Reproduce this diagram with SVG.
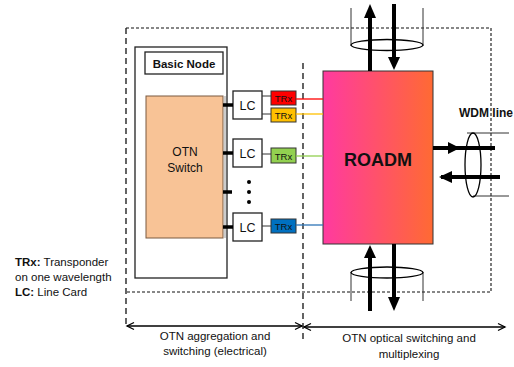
<svg xmlns="http://www.w3.org/2000/svg" width="514" height="367" viewBox="0 0 514 367">
<style>
text{font-family:"Liberation Sans",Arial,sans-serif;fill:#111}
.b{font-weight:bold}
.box{fill:#fff;stroke:#222;stroke-width:1.3}
.trx{stroke:#333;stroke-width:1}
.trxt{font-size:9.5px;text-anchor:middle}
.lct{font-size:12.5px;text-anchor:middle}
.dash{fill:none;stroke:#111;stroke-width:1.1;stroke-dasharray:3,2}
.vdash{fill:none;stroke:#111;stroke-width:1.3;stroke-dasharray:6,4}
.thick{stroke:#000;stroke-width:4;fill:none}
.conn{stroke:#000;stroke-width:3.5}
.thin{stroke:#333;stroke-width:1;fill:none}
.lab{font-size:11.5px;text-anchor:middle}
</style>
<defs>
<linearGradient id="rg" x1="0" y1="0" x2="1" y2="0">
<stop offset="0" stop-color="#FF3AA0"/>
<stop offset="1" stop-color="#FF6A33"/>
</linearGradient>
<marker id="chev" markerWidth="10" markerHeight="10" refX="8" refY="5" orient="auto-start-reverse" markerUnits="userSpaceOnUse">
<path d="M1,1.5 L8,5 L1,8.5" fill="none" stroke="#000" stroke-width="1.3"/>
</marker>
</defs>

<!-- frame -->
<g id="frame">
<path class="dash" d="M126,28 H491 V292 H126"/>
<line class="vdash" x1="126" y1="28" x2="126" y2="326"/>
<line class="vdash" x1="303" y1="63" x2="303" y2="342"/>
</g>

<!-- basic node -->
<g id="basic-node">
<rect class="box" x="135" y="47" width="92" height="231"/>
<rect class="box" x="145" y="52" width="78" height="22"/>
<text class="b" x="184" y="68" font-size="11.5" text-anchor="middle">Basic Node</text>
</g>

<g id="otn-switch">
<line x1="225" y1="96" x2="225" y2="238" stroke="#999" stroke-width="1"/>
<rect x="146" y="96" width="77" height="142" fill="#F8C396" stroke="#7a5a40" stroke-width="1"/>
<text x="185" y="156" font-size="12" text-anchor="middle">OTN</text>
<text x="185" y="172" font-size="12" text-anchor="middle">Switch</text>
</g>

<g id="lc1">
<rect class="box" x="233" y="91" width="29" height="28"/>
<text class="lct" x="247.5" y="110">LC</text>
</g>
<g id="lc2">
<rect class="box" x="233" y="139" width="29" height="28"/>
<text class="lct" x="247.5" y="158">LC</text>
</g>
<g id="lc3">
<rect class="box" x="233" y="213" width="29" height="28"/>
<text class="lct" x="247.5" y="232">LC</text>
</g>

<g id="dots">
<circle cx="249" cy="182" r="2" fill="#000"/>
<circle cx="249" cy="192" r="2" fill="#000"/>
<circle cx="249" cy="202" r="2" fill="#000"/>
</g>

<g id="trx1">
<rect class="trx" x="271" y="91" width="25" height="14" fill="#FF0000"/>
<text class="trxt" x="283.5" y="102">TRx</text>
</g>
<g id="trx2">
<rect class="trx" x="271" y="108" width="25" height="14" fill="#FFC000"/>
<text class="trxt" x="283.5" y="119">TRx</text>
</g>
<g id="trx3">
<rect class="trx" x="271" y="148" width="25" height="15" fill="#92D050"/>
<text class="trxt" x="283.5" y="159.5">TRx</text>
</g>
<g id="trx4">
<rect class="trx" x="271" y="219" width="25" height="14" fill="#0070C0"/>
<text class="trxt" x="283.5" y="230">TRx</text>
</g>

<g id="roadm">
<rect x="323" y="71" width="110" height="173" fill="url(#rg)" stroke="#333" stroke-width="1"/>
<text class="b" x="378" y="166" font-size="18" text-anchor="middle">ROADM</text>
</g>

<g id="connectors">
<!-- switch to LC -->
<line class="conn" x1="223" y1="105" x2="233" y2="105"/>
<line class="conn" x1="223" y1="153" x2="233" y2="153"/>
<line class="conn" x1="223" y1="192" x2="232" y2="192"/>
<line class="conn" x1="223" y1="227" x2="233" y2="227"/>
<!-- LC to TRx -->
<line x1="262" y1="96" x2="271" y2="96" stroke="#333" stroke-width="1"/>
<line x1="262" y1="114" x2="271" y2="114" stroke="#333" stroke-width="1"/>
<line x1="262" y1="154" x2="271" y2="154" stroke="#333" stroke-width="1"/>
<line x1="262" y1="226" x2="271" y2="226" stroke="#333" stroke-width="1"/>
<!-- TRx to ROADM -->
<line x1="296" y1="99" x2="323" y2="99" stroke="#FF0000" stroke-width="1.3"/>
<line x1="296" y1="114" x2="323" y2="114" stroke="#FFC000" stroke-width="1.3"/>
<line x1="296" y1="156" x2="323" y2="156" stroke="#92D050" stroke-width="1.3"/>
<line x1="296" y1="225" x2="323" y2="225" stroke="#2E75B6" stroke-width="1.3"/>

<!-- top fibers -->
<line class="thin" x1="351" y1="8" x2="351" y2="46"/>
<line class="thin" x1="423" y1="8" x2="423" y2="46"/>
<line class="thick" x1="370" y1="71" x2="370" y2="16"/>
<polygon points="370,4 364,18 376,18" fill="#000"/>
<line class="thick" x1="394" y1="4" x2="394" y2="59"/>
<polygon points="394,70 388,57 400,57" fill="#000"/>
<ellipse cx="387" cy="45" rx="36" ry="5.5" fill="none" stroke="#000" stroke-width="1.3"/>

<!-- bottom fibers -->
<line class="thin" x1="351" y1="272" x2="351" y2="301"/>
<line class="thin" x1="423" y1="272" x2="423" y2="301"/>
<line class="thick" x1="370" y1="256" x2="370" y2="311"/>
<polygon points="370,245 364,258 376,258" fill="#000"/>
<line class="thick" x1="394" y1="244" x2="394" y2="299"/>
<polygon points="394,311 388,297 400,297" fill="#000"/>
<ellipse cx="387" cy="272.5" rx="36" ry="5.5" fill="none" stroke="#000" stroke-width="1.3"/>

<!-- WDM line -->
<line class="thin" x1="467" y1="133" x2="509" y2="133"/>
<line class="thin" x1="473" y1="196" x2="509" y2="196"/>
<line class="thick" x1="433" y1="148" x2="495" y2="148"/>
<polygon points="460,148 448,142 448,154" fill="#000"/>
<line class="thick" x1="441" y1="177" x2="500" y2="177"/>
<polygon points="439,177 452,171 452,183" fill="#000"/>
<ellipse cx="473" cy="165" rx="8" ry="32" fill="none" stroke="#000" stroke-width="1.3"/>

<!-- extent arrows -->
<line x1="127" y1="326" x2="302" y2="326" stroke="#000" stroke-width="1.6" marker-start="url(#chev)" marker-end="url(#chev)"/>
<line x1="304" y1="327" x2="505" y2="327" stroke="#000" stroke-width="1.6" marker-start="url(#chev)" marker-end="url(#chev)"/>
</g>

<g id="labels">
<text class="b" x="459" y="117" font-size="12">WDM line</text>
<text class="lab" x="215" y="340">OTN aggregation and</text>
<text class="lab" x="215" y="355">switching (electrical)</text>
<text class="lab" x="409" y="342">OTN optical switching and</text>
<text class="lab" x="409" y="358">multiplexing</text>
</g>

<g id="legend" font-size="11.5">
<text x="15" y="266"><tspan class="b">TRx:</tspan> Transponder</text>
<text x="15" y="281">on one wavelength</text>
<text x="15" y="296"><tspan class="b">LC:</tspan> Line Card</text>
</g>
</svg>
